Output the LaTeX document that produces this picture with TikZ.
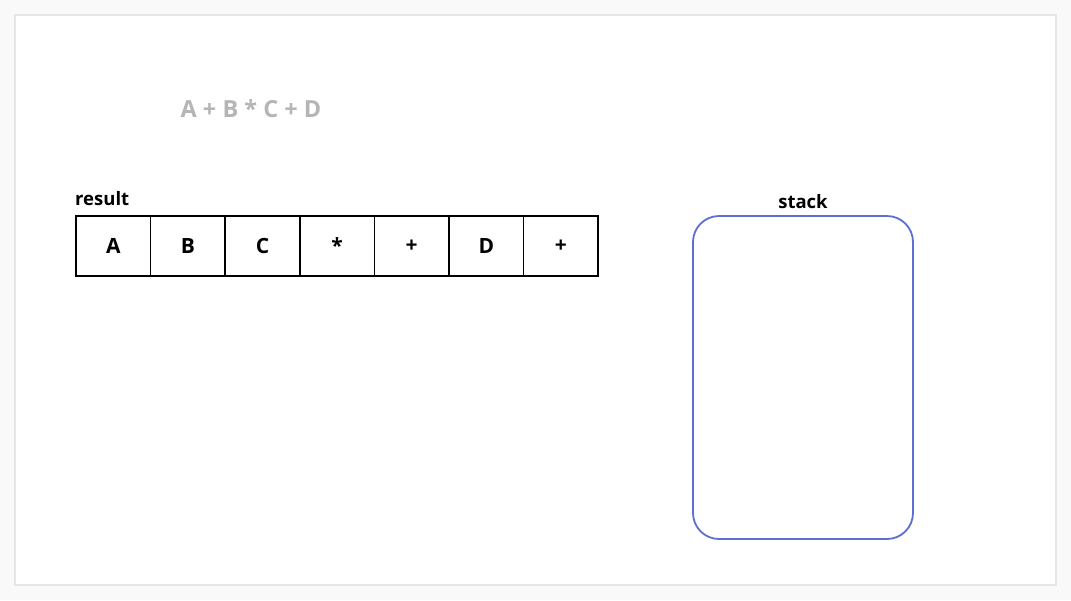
\documentclass[tikz,border=0pt]{standalone}
\usepackage{fontspec}
\setmainfont{Open Sans}
\usepackage{xcolor}
\usetikzlibrary{positioning}
\definecolor{cardedge}{HTML}{E6E6E6}
\definecolor{pagebg}{HTML}{F9F9F9}
\definecolor{exprgray}{HTML}{B5B5B5}
\definecolor{stackblue}{HTML}{5D6FD2}

\begin{document}
\begin{tikzpicture}[x=1pt,y=-1pt,node distance=74.6pt,
	cell/.style={rectangle, draw, line width=1.7pt, minimum width=74.6pt, minimum height=60pt, inner sep=0pt, font=\bfseries\fontsize{21}{21}\selectfont},
	heading/.style={font=\bfseries\fontsize{18.5}{18.5}\selectfont}]
			% page and card
			\fill[pagebg] (0,0) rectangle (1071,600);
			\useasboundingbox (0,0) rectangle (1071,600);
			\fill[cardedge] (14,14) rectangle (1057,586);
			\fill[white] (16,16) rectangle (1055,584);
			
			% expression
			\node[font=\bfseries\fontsize{23.5}{23.5}\selectfont, text=exprgray] (expr) at (251,109) {A + B * C + D};
			
			% result cells
			\node[cell] (r1) at (113.3,246) {A};
			\node[cell] (r2) [right of=r1] {B};
			\node[cell] (r3) [right of=r2] {C};
			\node[cell] (r4) [right of=r3] {\raisebox{-0.3ex}{*}};
			\node[cell] (r5) [right of=r4] {+};
			\node[cell] (r6) [right of=r5] {D};
			\node[cell] (r7) [right of=r6] {+};
			\node[heading, anchor=south west, inner sep=0pt] (result) at (75,206) {result};
			
			% stack
			\node[draw=stackblue, line width=1.8pt, rounded corners=26pt, minimum width=220pt, minimum height=323pt] (stack) at (803,377.5) {};
			\node[heading, above=6pt of stack, inner sep=0pt] (stacklbl) {stack};
			
		\end{tikzpicture}
\end{document}
